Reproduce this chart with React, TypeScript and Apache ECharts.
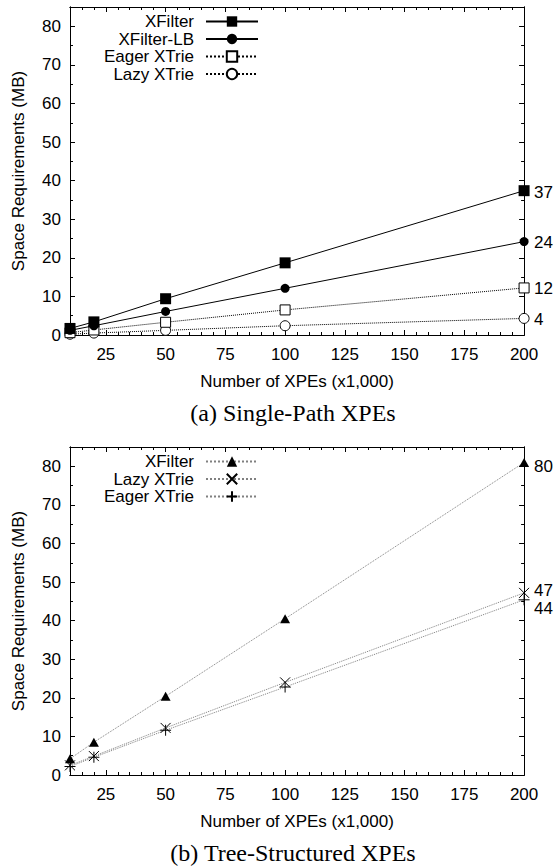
import React, { useEffect, useRef } from 'react';
import * as echarts from 'echarts';

// ---------- data ----------
const xValues = [10, 20, 50, 100, 200];
const xTickLabels = [25, 50, 75, 100, 125, 150, 175, 200];
const xMinorTicks = [15, 20, 30, 35, 40, 45, 55, 60, 65, 70, 80, 85, 90, 95, 105, 110, 115, 120, 130, 135, 140, 145, 155, 160, 165, 170, 180, 185, 190, 195];
const yTickLabels = [0, 10, 20, 30, 40, 50, 60, 70, 80];
const yMinorTicks = [5, 15, 25, 35, 45, 55, 65, 75];

// (a) Single-Path XPEs
const aXFilter = [1.7, 3.4, 9.4, 18.7, 37.4];
const aXFilterLB = [1.2, 2.4, 6.1, 12.1, 24.2];
const aEagerXTrie = [0.6, 1.3, 3.3, 6.5, 12.2];
const aLazyXTrie = [0.2, 0.5, 1.2, 2.4, 4.3];
const aEndLabels = [37, 24, 12, 4];

// (b) Tree-Structured XPEs
const bXFilter = [4.2, 8.5, 20.4, 40.5, 81.0];
const bLazyXTrie = [2.5, 4.9, 12.2, 24.0, 47.2];
const bEagerXTrie = [2.2, 4.6, 11.6, 22.8, 45.4];
const bEndLabels = [80, 47, 44];

const captions = ['(a) Single-Path XPEs', '(b) Tree-Structured XPEs'];
const xTitle = 'Number of XPEs (x1,000)';
const yTitle = 'Space Requirements (MB)';

// ---------- styling helpers ----------
const FONT = 'Liberation Sans';
const SERIF = 'Liberation Serif';
const BLACK = '#000';
const GRAY = '#808080';

// small vertical nudges (px) for the crowded end labels of chart (b)
const endLabelNudge: Record<string, number> = { b47: -3, b44: 3 };

const pts = (ys: number[]) => ys.map((y, i) => [xValues[i], y]);

const lineTxt = { fontFamily: FONT, fontSize: 17, color: BLACK };

function xAxes(gridIndex: number) {
  const base = {
    type: 'value',
    gridIndex,
    min: 10,
    max: 200,
    splitLine: { show: false },
    axisLine: { show: true, onZero: false, lineStyle: { color: BLACK, width: 1 } },
  };
  return [
    {
      ...base,
      position: 'bottom',
      axisTick: { show: true, inside: true, length: 5, customValues: xTickLabels, lineStyle: { color: BLACK } },
      axisLabel: { show: true, customValues: xTickLabels, margin: 11, showMinLabel: true, showMaxLabel: true, ...lineTxt },
      name: xTitle,
      nameLocation: 'middle',
      nameGap: 38,
      nameTextStyle: { ...lineTxt },
    },
    {
      ...base,
      position: 'bottom',
      axisTick: { show: true, inside: true, length: 3, customValues: xMinorTicks, lineStyle: { color: BLACK } },
      axisLabel: { show: false },
    },
    {
      ...base,
      position: 'top',
      axisTick: { show: true, inside: true, length: 5, customValues: xTickLabels, lineStyle: { color: BLACK } },
      axisLabel: { show: false },
    },
    {
      ...base,
      position: 'top',
      axisTick: { show: true, inside: true, length: 3, customValues: xMinorTicks, lineStyle: { color: BLACK } },
      axisLabel: { show: false },
    },
  ];
}

function yAxes(gridIndex: number, endLabels: number[], tag: string) {
  const base = {
    type: 'value',
    gridIndex,
    min: 0,
    max: 85,
    splitLine: { show: false },
    axisLine: { show: true, onZero: false, lineStyle: { color: BLACK, width: 1 } },
  };
  const axes: any[] = [
    {
      ...base,
      position: 'left',
      axisTick: { show: true, inside: true, length: 5, customValues: yTickLabels, lineStyle: { color: BLACK } },
      axisLabel: { show: true, customValues: yTickLabels, margin: 9, showMinLabel: true, showMaxLabel: true, ...lineTxt },
      name: yTitle,
      nameLocation: 'middle',
      nameGap: 43,
      nameTextStyle: { ...lineTxt },
    },
    {
      ...base,
      position: 'left',
      axisTick: { show: true, inside: true, length: 3, customValues: yMinorTicks, lineStyle: { color: BLACK } },
      axisLabel: { show: false },
    },
    {
      ...base,
      position: 'right',
      axisTick: { show: true, inside: true, length: 5, customValues: yTickLabels, lineStyle: { color: BLACK } },
      axisLabel: { show: false },
    },
    {
      ...base,
      position: 'right',
      axisTick: { show: true, inside: true, length: 3, customValues: yMinorTicks, lineStyle: { color: BLACK } },
      axisLabel: { show: false },
    },
  ];
  // one right-hand axis per end-of-line value label, so none is hidden by overlap rules
  endLabels.forEach((v) => {
    const nudge = endLabelNudge[tag + v] || 0;
    const extra: any = nudge
      ? { verticalAlign: nudge < 0 ? 'bottom' : 'top', lineHeight: Math.abs(nudge) * 2 }
      : {};
    axes.push({
      ...base,
      position: 'right',
      axisLine: { show: false, onZero: false },
      axisTick: { show: false },
      axisLabel: {
        show: true,
        customValues: [v],
        margin: 10,
        showMinLabel: true,
        showMaxLabel: true,
        ...lineTxt,
        ...extra,
      },
    });
  });
  return axes;
}

const CROSS = 'path://M0,0L10,10M10,0L0,10';
const PLUS = 'path://M5,0L5,10M0,5L10,5';

function mkSeries(name: string, ys: number[], axisIdx: number, yIdx: number, symbol: string, size: any, line: any, item: any, z: number) {
  return {
    type: 'line',
    name,
    data: pts(ys),
    xAxisIndex: axisIdx,
    yAxisIndex: yIdx,
    symbol,
    symbolSize: size,
    showSymbol: true,
    showAllSymbol: true,
    clip: false,
    silent: true,
    z,
    lineStyle: line,
    itemStyle: item,
    emphasis: { disabled: true },
  };
}

const solidBlack = { color: BLACK, width: 1, type: 'solid' };
const dottedBlack = { color: BLACK, width: 1, type: 'dotted' };
const dottedGray = { color: GRAY, width: 1, type: 'dotted' };
const filled = { color: BLACK, borderColor: BLACK, borderWidth: 0 };
const open = { color: '#fff', borderColor: BLACK, borderWidth: 1 };
const stroked = { color: BLACK, borderColor: BLACK, borderWidth: 1 };

const legendBase = {
  orient: 'vertical',
  align: 'right',
  right: 297,
  itemWidth: 52,
  itemHeight: 13,
  itemGap: 0.5,
  padding: 0,
  selectedMode: false,
  textStyle: { ...lineTxt, padding: [0, 7, 0, 0] },
  formatter: (name: string) => name.slice(2),
};

export default function App() {
  const ref = useRef<HTMLDivElement>(null);
  useEffect(() => {
    if (!ref.current) return;
    const chart = echarts.init(ref.current, undefined, { renderer: 'svg' });
    const yTop = yAxes(0, aEndLabels, 'a');
    const yBottom = yAxes(1, bEndLabels, 'b');
    const yB0 = yTop.length;
    const option: any = {
      animation: false,
      backgroundColor: '#fff',
      grid: [
        { left: 70, right: 30, top: 7, height: 328, containLabel: false },
        { left: 70, right: 30, top: 447, height: 328, containLabel: false },
      ],
      xAxis: [...xAxes(0), ...xAxes(1)],
      yAxis: [...yTop, ...yBottom],
      title: [
        {
          text: captions[0],
          left: 293,
          top: 401,
          textAlign: 'center',
          padding: 0,
          textStyle: { fontFamily: SERIF, fontSize: 24, fontWeight: 'normal', color: BLACK },
        },
        {
          text: captions[1],
          left: 293,
          top: 841,
          textAlign: 'center',
          padding: 0,
          textStyle: { fontFamily: SERIF, fontSize: 24, fontWeight: 'normal', color: BLACK },
        },
      ],
      legend: [
        { ...legendBase, top: 13, data: ['a:XFilter', 'a:XFilter-LB', 'a:Eager XTrie', 'a:Lazy XTrie'] },
        { ...legendBase, top: 453, data: ['b:XFilter', 'b:Lazy XTrie', 'b:Eager XTrie'] },
      ],
      series: [
        mkSeries('a:XFilter', aXFilter, 0, 0, 'rect', 11, solidBlack, filled, 5),
        mkSeries('a:XFilter-LB', aXFilterLB, 0, 0, 'circle', 9, solidBlack, filled, 4),
        mkSeries('a:Eager XTrie', aEagerXTrie, 0, 0, 'rect', 10, dottedBlack, open, 3),
        mkSeries('a:Lazy XTrie', aLazyXTrie, 0, 0, 'circle', 10, dottedBlack, open, 2),
        mkSeries('b:XFilter', bXFilter, 4, yB0, 'triangle', [10, 9], dottedGray, filled, 5),
        mkSeries('b:Lazy XTrie', bLazyXTrie, 4, yB0, CROSS, 10, dottedGray, stroked, 4),
        mkSeries('b:Eager XTrie', bEagerXTrie, 4, yB0, PLUS, 11, dottedGray, stroked, 3),
      ],
    };
    chart.setOption(option);
    return () => chart.dispose();
  }, []);
  return (
    <div
      ref={ref}
      style={{ position: 'fixed', left: 0, top: 0, width: 556, height: 867, background: '#fff' }}
    />
  );
}
